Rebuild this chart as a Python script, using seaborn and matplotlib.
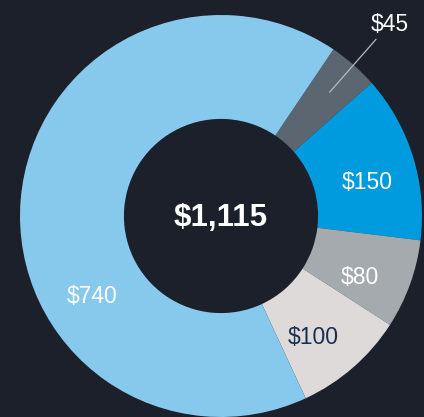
import numpy as np
import matplotlib
matplotlib.use("Agg")
import matplotlib.pyplot as plt
import seaborn as sns

# spending breakdown, clockwise from the small slice at the top
labels = ["$45", "$150", "$80", "$100", "$740"]
values = [45, 150, 80, 100, 740]
colors = ["#5b6670", "#009bde", "#a5aaae", "#dedada", "#87c9ed"]
text_colors = ["white", "white", "white", "#17304d", "white"]
total_label = "$1,115"

bg = "#1b202b"
sns.set_theme(style="dark", rc={"axes.facecolor": bg, "figure.facecolor": bg})
plt.rcParams["font.family"] = ["Liberation Sans", "DejaVu Sans"]

fig = plt.figure(figsize=(4.24, 4.17), dpi=100)
ax = fig.add_axes([0, 0, 1, 1])
ax.set_facecolor(bg)

wedges, _ = ax.pie(values, colors=colors, startangle=56, counterclock=False,
                   radius=1.0, wedgeprops=dict(width=0.517, linewidth=0))

ring_r = 0.75
for w, lab, tc in zip(wedges, labels, text_colors):
    mid = (w.theta1 + w.theta2) / 2
    if lab == "$45":
        # small slice: label outside with a leader line
        a = np.deg2rad(mid)
        ax.plot([0.82 * np.cos(a), 1.17 * np.cos(a)],
                [0.82 * np.sin(a), 1.17 * np.sin(a)],
                color="#b5babf", lw=0.9)
        a2 = np.deg2rad(48.5)
        ax.text(1.27 * np.cos(a2), 1.27 * np.sin(a2), lab, color="white",
                fontsize=16.5, ha="center", va="center")
        continue
    if lab == "$740":
        mid = 211.5
    else:
        mid -= 3.5
    a = np.deg2rad(mid)
    ax.text(ring_r * np.cos(a), ring_r * np.sin(a) - 0.01, lab, color=tc,
            fontsize=16.5, ha="center", va="center")

ax.text(0, -0.012, total_label, color="white", fontsize=22.5, fontweight="bold",
        ha="center", va="center")

ax.set_aspect("equal")
ax.set_xlim(-1.0995, 1.01)
ax.set_ylim(-1.0, 1.0746)
ax.axis("off")

fig.savefig("out.png", dpi=100, facecolor=bg)
